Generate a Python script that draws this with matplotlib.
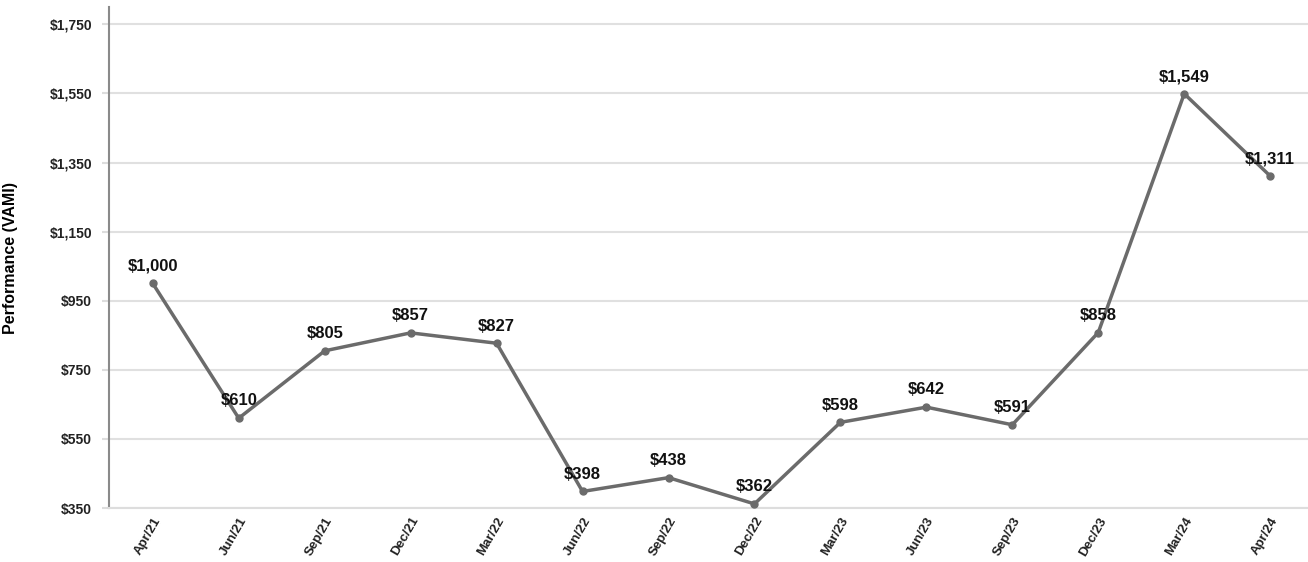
import matplotlib.pyplot as plt

periods = ['Apr/21', 'Jun/21', 'Sep/21', 'Dec/21', 'Mar/22', 'Jun/22', 'Sep/22',
           'Dec/22', 'Mar/23', 'Jun/23', 'Sep/23', 'Dec/23', 'Mar/24', 'Apr/24']
vami = [1000, 610, 805, 857, 827, 398, 438, 362, 598, 642, 591, 858, 1549, 1311]
y_ticks = [350, 550, 750, 950, 1150, 1350, 1550, 1750]

plt.rcParams['font.family'] = ['Liberation Sans', 'DejaVu Sans']

fig = plt.figure(figsize=(13.08, 5.62), dpi=100)
ax = fig.add_axes([0.0833, 0.096, 0.9167, 0.8915])

x = list(range(len(periods)))
ax.plot(x, vami, color='#6b6b6b', lw=2.5, marker='o', ms=5, zorder=3)

for i, v in zip(x, vami):
    ax.annotate(f'${v:,}', (i, v), xytext=(0, 7), textcoords='offset points',
                ha='center', va='bottom', fontsize=12, fontweight='bold', color='#111111')

ax.set_xlim(-0.51, 13.44)
ax.set_ylim(350, 1800)
ax.set_yticks(y_ticks)
ax.set_yticklabels([f'${t:,}' for t in y_ticks], fontsize=10, fontweight='bold', color='#222222')
ax.set_xticks(x)
ax.set_xticklabels(periods, rotation=60, ha='right', rotation_mode='anchor',
                   fontsize=9.5, fontweight='bold', color='#222222')
ax.tick_params(axis='x', length=0, pad=5)
ax.tick_params(axis='y', length=5, color='#dddddd', width=1.5, pad=7)
ax.grid(axis='y', color='#e0e0e0', lw=1.5)
ax.set_axisbelow(True)

for s in ['top', 'right']:
    ax.spines[s].set_visible(False)
ax.spines['bottom'].set_color('#dddddd')
ax.spines['bottom'].set_linewidth(1.5)
ax.spines['left'].set_color('#8a8a8a')
ax.spines['left'].set_linewidth(1.5)

ax.set_ylabel('Performance (VAMI)', fontsize=11.5, fontweight='bold')
ax.yaxis.set_label_coords(-0.076, 0.5)

fig.savefig('out.png', dpi=100)
